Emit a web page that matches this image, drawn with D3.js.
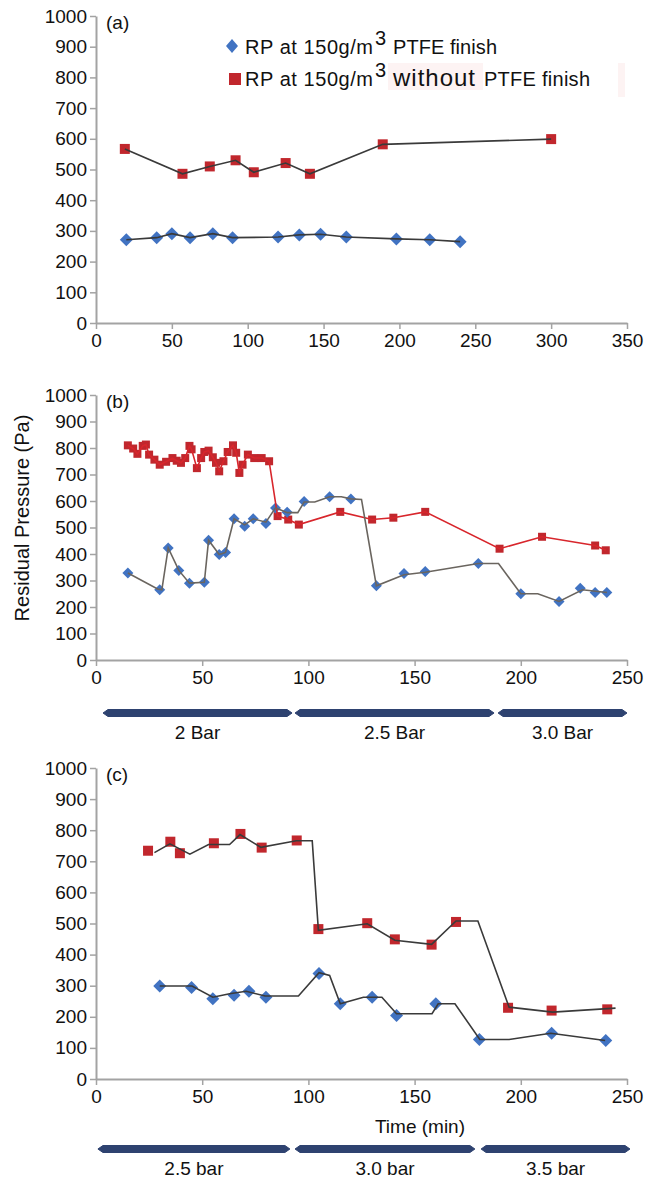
<!DOCTYPE html>
<html>
<head>
<meta charset="utf-8">
<script src="https://cdn.jsdelivr.net/npm/d3@7"></script>
<style>
body{margin:0;background:#fff}
svg{display:block}
text{font-family:"Liberation Sans",Arial,sans-serif;fill:#111}
</style>
</head>
<body>
<svg id="chart" width="651" height="1180"></svg>
<script>
// ---- panel (a) ----
var aBlueT = [20,40,50,62,77,90,120,134,148,165,198,220,240]
var aBlueP = [271,278,291,278,291,278,280,287,289,280,274,271,265]
var aRedT = [19,57,75,92,104,125,141,189,300]
var aRedP = [567,486,510,530,491,521,486,582,599]

// ---- panel (b) ----
var bBlueT = [15,30,34,39,44,51,53,58,61,65,70,74,80,84.5,90,98,110,120,132,145,155,180,200,218,228,235,240.5]
var bBlueP = [328,265,423,338,290,293,452,398,406,533,505,533,515,574,558,598,616,608,280,326,334,364,250,221,271,255,255]
var bBlueLineT = [15,29,31,34,39,44,51,53,58,61,65,70,74,80,84.5,87,90,95,98,103,110,115.5,120,125,132,145,155,180,189.5,200,208,218,229,240.6]
var bBlueLineP = [328,268,265,423,338,290,293,452,398,406,533,510,533,520,574,566,556,556,596,596,616,616,608,606,280,322,331,364,364,250,250,221,265,255]
var bRedT = [15,17.5,19.5,22,23.5,25,27.5,30,33,36,38,40,42,44,45,47.5,49.5,51,53,55,56.5,58,60,62,64.5,66,67.5,69,71.5,74.5,78,81.5,85.5,90.5,95.5,115,130,140,155,190,210,235,240]
var bRedP = [810,798,778,808,813,775,756,737,748,762,752,744,762,808,795,724,762,785,790,765,744,712,750,785,810,782,706,737,775,762,762,750,543,530,511,559,530,537,559,420,465,432,414]
var bBands = ['2 Bar','2.5 Bar','3.0 Bar']
var bBandFrom = [3.3,93.7,189.3]
var bBandTo = [92.3,187.4,250]

// ---- panel (c) ----
var cBlueT = [30,45,55,65,72,80,105,115,130,141.5,160,180.5,214.5,240]
var cBlueP = [299,294,258,269,282,263,339,242,263,204,242,127,147,124]
var cBlueLineT = [30,45.2,55,62.9,70.7,79.6,95.3,105,110,115,125.9,134.6,141.5,158.2,161.1,169,180.7,194.5,214.1,239.7]
var cBlueLineP = [299,299,263,274,282,267,267,342,333,242,263,263,210,210,242,242,127,127,147,124]
var cRedT = [24.5,35,39.5,55.5,68,78,94.5,104.7,127.7,140.7,158,169.5,194,214.5,240.7]
var cRedP = [734,763,726,758,788,744,767,482,501,449,432,505,229,220,224]
var cRedLineT = [27.5,34.8,44.2,53,62.9,67.8,77.6,94.3,101.8,104.7,127.7,140.7,158,169.5,179.8,194.5,215,244.6]
var cRedLineP = [728,756,723,754,754,786,745,766,766,478,499,446,433,508,508,231,215,228]
var cBands = ['2.5 bar','3.0 bar','3.5 bar']
var cBandFrom = [0.9,93.7,181.3]
var cBandTo = [91.3,178.4,251.4]

var yTicks = d3.range(0, 1001, 100)

var svg = d3.select('#chart')
var left = 96, right = 627
var blue = '#4173c2', red = '#c1272d', dark = '#3a3a3a', axisGray = '#a3a3a3', navy = '#2e4270'

function zip(t, p){ return t.map(function(d, i){ return [d, p[i]] }) }

function panel(o){
	var x = d3.scaleLinear().domain([0, o.xMax]).range([left, right])
	var y = d3.scaleLinear().domain([0, 1000]).range([o.bot, o.top])
	var g = svg.append('g')

	var ya = g.append('g')
		.attr('transform', 'translate(' + left + ',0)')
		.call(d3.axisLeft(y).tickValues(yTicks).tickFormat(d3.format('d')).tickSize(6).tickSizeOuter(0).tickPadding(3))
	var xa = g.append('g')
		.attr('transform', 'translate(0,' + o.bot + ')')
		.call(d3.axisBottom(x).ticks(o.xMax / 50).tickFormat(d3.format('d')).tickSize(6).tickSizeOuter(0).tickPadding(5))
	;[ya, xa].forEach(function(a){
		a.select('.domain').attr('stroke', axisGray).attr('stroke-width', 2)
		a.selectAll('.tick line').attr('stroke', axisGray).attr('stroke-width', 1.5)
		a.selectAll('.tick text').attr('font-size', 19).attr('font-family', '"Liberation Sans",Arial,sans-serif').attr('fill', '#111')
	})

	g.append('text').attr('x', 106).attr('y', o.top + 13).attr('font-size', 19).text(o.tag)

	var line = d3.line().x(function(d){ return x(d[0]) }).y(function(d){ return y(d[1]) })

	// markers first, trend lines drawn over them
	g.selectAll('.sq').data(zip(o.redT, o.redP)).enter().append('rect')
		.attr('x', function(d){ return x(d[0]) - o.sq / 2 })
		.attr('y', function(d){ return y(d[1]) - o.sq / 2 })
		.attr('width', o.sq).attr('height', o.sq)
		.attr('fill', red)
	g.selectAll('.dm').data(zip(o.blueT, o.blueP)).enter().append('path')
		.attr('d', function(d){
			var cx = x(d[0]), cy = y(d[1]), r = o.dm
			return 'M' + cx + ',' + (cy - r) + 'L' + (cx + r) + ',' + cy + 'L' + cx + ',' + (cy + r) + 'L' + (cx - r) + ',' + cy + 'Z'
		})
		.attr('fill', blue)

	g.append('path').datum(o.redLine).attr('d', line)
		.attr('fill', 'none').attr('stroke', o.redStroke).attr('stroke-width', 1.6)
	g.append('path').datum(o.blueLine).attr('d', line)
		.attr('fill', 'none').attr('stroke', o.blueStroke).attr('stroke-width', 1.6)

	if(o.bands){
		o.bands.forEach(function(b, i){
			var x0 = x(o.bandFrom[i]), x1 = x(o.bandTo[i]), cy = o.bandY
			g.append('path')
				.attr('d', 'M' + x0 + ',' + cy + 'L' + (x0 + 5) + ',' + (cy - 3.5) + 'L' + (x1 - 5) + ',' + (cy - 3.5) +
					'L' + x1 + ',' + cy + 'L' + (x1 - 5) + ',' + (cy + 3.5) + 'L' + (x0 + 5) + ',' + (cy + 3.5) + 'Z')
				.attr('fill', navy).attr('stroke', navy).attr('stroke-width', 1).attr('stroke-linejoin', 'round')
			g.append('text').attr('x', (x0 + x1) / 2).attr('y', o.bandY + 26)
				.attr('text-anchor', 'middle').attr('font-size', 19).text(b)
		})
	}
	return {x: x, y: y, g: g}
}

var pa = panel({tag: '(a)', xMax: 350, top: 16, bot: 323, sq: 10, dm: 6.5,
	blueT: aBlueT, blueP: aBlueP, redT: aRedT, redP: aRedP,
	blueLine: zip(aBlueT, aBlueP), redLine: zip(aRedT, aRedP),
	blueStroke: dark, redStroke: dark})

var pb = panel({tag: '(b)', xMax: 250, top: 395, bot: 660, sq: 8, dm: 5.5,
	blueT: bBlueT, blueP: bBlueP, redT: bRedT, redP: bRedP,
	blueLine: zip(bBlueLineT, bBlueLineP), redLine: zip(bRedT, bRedP),
	blueStroke: '#6a655f', redStroke: '#d8262c',
	bands: bBands, bandFrom: bBandFrom, bandTo: bBandTo, bandY: 713})

var pc = panel({tag: '(c)', xMax: 250, top: 768, bot: 1079, sq: 10, dm: 6.5,
	blueT: cBlueT, blueP: cBlueP, redT: cRedT, redP: cRedP,
	blueLine: zip(cBlueLineT, cBlueLineP), redLine: zip(cRedLineT, cRedLineP),
	blueStroke: dark, redStroke: dark,
	bands: cBands, bandFrom: cBandFrom, bandTo: cBandTo, bandY: 1149})

// axis titles
svg.append('text').attr('transform', 'translate(29,518) rotate(-90)')
	.attr('text-anchor', 'middle').attr('font-size', 20).text('Residual Pressure (Pa)')
svg.append('text').attr('x', 420).attr('y', 1133)
	.attr('text-anchor', 'middle').attr('font-size', 19).text('Time (min)')

// legend of panel (a)
var leg = svg.append('g')
leg.append('rect').attr('x', 388).attr('y', 63).attr('width', 95).attr('height', 27).attr('fill', '#fdf3f3')
leg.append('rect').attr('x', 618).attr('y', 63).attr('width', 7).attr('height', 34).attr('fill', '#fdf3f3')
leg.append('path').attr('d', 'M232,39L238,46L232,53L226,46Z').attr('fill', blue)
leg.append('rect').attr('x', 229).attr('y', 73).attr('width', 12).attr('height', 12).attr('fill', red)

var l1 = leg.append('text').attr('y', 54).attr('font-size', 20)
l1.append('tspan').attr('x', 245).attr('textLength', 128).text('RP at 150g/m')
l1.append('tspan').attr('x', 375).attr('dy', -9).text('3')
l1.append('tspan').attr('x', 393).attr('dy', 9).attr('textLength', 104).text('PTFE finish')

var l2 = leg.append('text').attr('y', 86).attr('font-size', 20)
l2.append('tspan').attr('x', 245).attr('textLength', 128).text('RP at 150g/m')
l2.append('tspan').attr('x', 375).attr('dy', -9).text('3')
l2.append('tspan').attr('x', 393).attr('dy', 9).attr('font-size', 24).attr('textLength', 82).text('without')
l2.append('tspan').attr('x', 484).attr('textLength', 106).text('PTFE finish')
</script>
</body>
</html>
